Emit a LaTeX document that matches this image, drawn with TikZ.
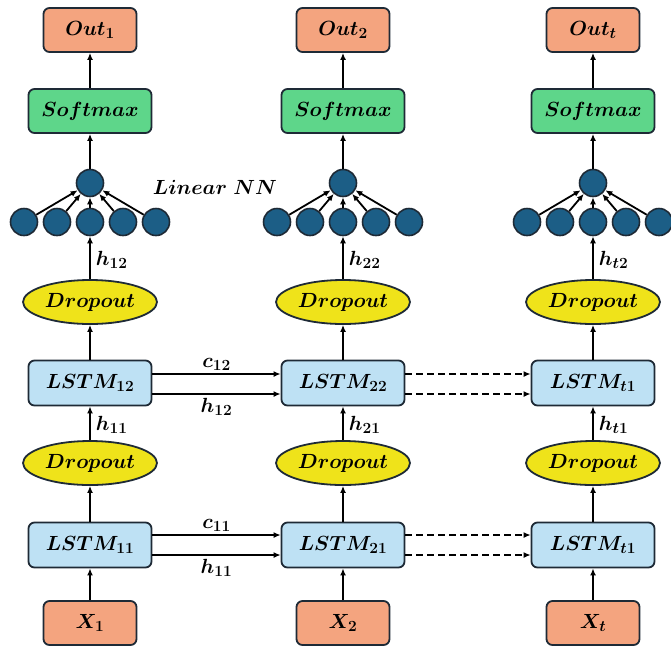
\RequirePackage{fix-cm}
\documentclass[tikz,border=0pt]{standalone}
\usepackage{amsmath}
\usetikzlibrary{arrows.meta,shapes.geometric}
\DeclareMathSizes{20.5}{20.5}{15.5}{11}

\definecolor{outfill}{HTML}{F4A47F}
\definecolor{softfill}{HTML}{5ED68A}
\definecolor{lstmfill}{HTML}{BEE1F4}
\definecolor{dropfill}{HTML}{EFE31A}
\definecolor{neuron}{HTML}{1C5E86}
\definecolor{edge}{HTML}{1E2A36}

\tikzset{
  txt/.style={font=\fontsize{20.5}{24}\selectfont\boldmath},
  base/.style={draw=edge, line width=1.8pt, inner sep=0pt, txt},
  iobox/.style={base, rounded corners=6pt, fill=outfill,
    minimum width=93pt, minimum height=44pt},
  softbox/.style={base, rounded corners=6pt, fill=softfill,
    minimum width=123pt, minimum height=44pt},
  lstmbox/.style={base, rounded corners=6pt, fill=lstmfill,
    minimum width=123pt, minimum height=45pt},
  dropbox/.style={base, ellipse, fill=dropfill,
    minimum width=134pt, minimum height=44pt},
  neur/.style={draw=edge, line width=1.6pt, circle, fill=neuron,
    minimum size=27pt, inner sep=0pt},
  lbl/.style={txt, inner sep=1pt},
  arr/.style={draw=black, line width=1.8pt,
    -{Latex[length=7pt,width=6pt]}},
  dasharr/.style={arr, dash pattern=on 7pt off 4pt}
}

\begin{document}
\begin{tikzpicture}[x=1pt,y=-1pt]
\useasboundingbox (0,0) rectangle (671,646);

% one column per time step
\foreach \c/\cx/\o/\la/\lb/\ha/\hb in {
    1/90/1/12/11/12/11,
    2/343/2/22/21/22/21,
    3/593/t/t1/t1/t2/t1}{
  \node[iobox]   (out\c)  at (\cx,30)  {$Out_{\o}$};
  \node[softbox] (soft\c) at (\cx,111) {$Softmax$};
  \node[neur]    (top\c)  at (\cx,183) {};
  \foreach \k/\dx in {1/-66,2/-33,3/0,4/33,5/66}
    \node[neur] (n\c-\k) at (\cx+\dx,222) {};
  \node[dropbox] (dropA\c) at (\cx,302) {$Dropout$};
  \node[lstmbox] (lstmA\c) at (\cx,383) {$LSTM_{\la}$};
  \node[dropbox] (dropB\c) at (\cx,463) {$Dropout$};
  \node[lstmbox] (lstmB\c) at (\cx,545) {$LSTM_{\lb}$};
  \node[iobox]   (x\c)     at (\cx,623) {$X_{\o}$};

  % vertical flow
  \draw[arr] (x\c) -- (lstmB\c);
  \draw[arr] (lstmB\c) -- (dropB\c);
  \draw[arr] (dropB\c) -- node[lbl, right=4pt, pos=0.45] {$h_{\hb}$} (lstmA\c);
  \draw[arr] (lstmA\c) -- (dropA\c);
  \draw[arr] (dropA\c) -- node[lbl, right=4pt, pos=0.45] {$h_{\ha}$} (n\c-3);
  \foreach \k in {1,2,3,4,5}
    \draw[arr] (n\c-\k) -- (top\c);
  \draw[arr] (top\c) -- (soft\c);
  \draw[arr] (soft\c) -- (out\c);
}

\node[lbl] (linnn) at (215,187) {$Linear\ NN$};

% recurrent connections between time steps
\draw[arr] ([yshift=9pt]lstmA1.east) -- node[lbl, above=2pt] {$c_{12}$} ([yshift=9pt]lstmA2.west);
\draw[arr] ([yshift=-11pt]lstmA1.east) -- node[lbl, below=2pt] {$h_{12}$} ([yshift=-11pt]lstmA2.west);
\draw[arr] ([yshift=10pt]lstmB1.east) -- node[lbl, above=2pt] {$c_{11}$} ([yshift=10pt]lstmB2.west);
\draw[arr] ([yshift=-10pt]lstmB1.east) -- node[lbl, below=2pt] {$h_{11}$} ([yshift=-10pt]lstmB2.west);

\draw[dasharr] ([yshift=9pt]lstmA2.east) -- ([yshift=9pt]lstmA3.west);
\draw[dasharr] ([yshift=-11pt]lstmA2.east) -- ([yshift=-11pt]lstmA3.west);
\draw[dasharr] ([yshift=10pt]lstmB2.east) -- ([yshift=10pt]lstmB3.west);
\draw[dasharr] ([yshift=-10pt]lstmB2.east) -- ([yshift=-10pt]lstmB3.west);
\end{tikzpicture}
\end{document}
